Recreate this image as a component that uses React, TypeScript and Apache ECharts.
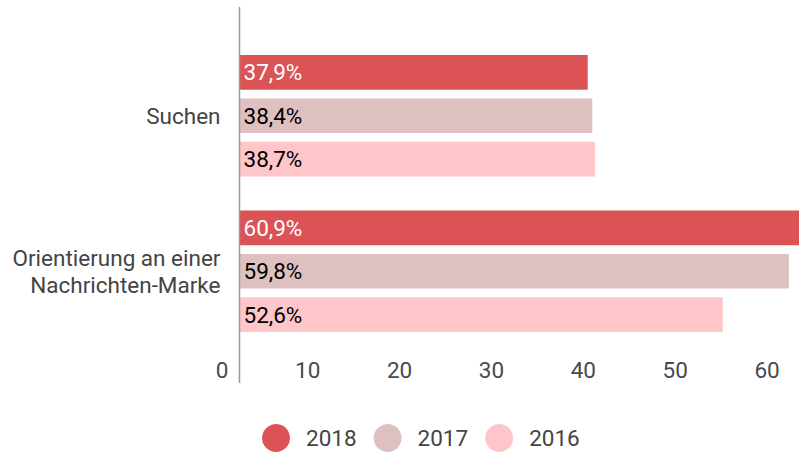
import React, { useEffect, useRef } from "react";
import * as echarts from "echarts";

const categories = ["Suchen", "Orientierung an einer\nNachrichten-Marke"];
const years = ["2018", "2017", "2016"];
const values2018 = [37.9, 60.9];
const values2017 = [38.4, 59.8];
const values2016 = [38.7, 52.6];
const colors = ["#db5355", "#dfc0c1", "#ffc6c9"];
const labelColors = ["#ffffff", "#000000", "#000000"];

const FS = 22.5;

export default function App() {
  const ref = useRef<HTMLDivElement>(null);
  useEffect(() => {
    document.body.style.margin = "0";
    if (!ref.current) return;
    const chart = echarts.init(ref.current, undefined, { renderer: "svg" });
    const seriesData = [values2018, values2017, values2016];
    chart.setOption({
      animation: false,
      textStyle: { fontFamily: "Roboto" },
      grid: { left: 239.5, right: 10, top: 38, bottom: 106, containLabel: false },
      legend: {
        top: 424,
        left: 262,
        padding: 0,
        icon: "circle",
        itemWidth: 28,
        itemHeight: 28,
        itemGap: 17,
        data: years,
        textStyle: { fontSize: FS, color: "#444", fontFamily: "Roboto", padding: [0, 0, 0, 11] },
      },
      xAxis: {
        type: "value",
        min: 0,
        max: 60.9,
        interval: 10,
        axisLine: { show: false },
        axisTick: { show: false },
        splitLine: { show: false },
        axisLabel: {
          fontSize: FS,
          color: "#4a4a4a",
          fontFamily: "Roboto",
          align: "right",
          padding: [0, 11, 0, 0],
          margin: 9,
          showMaxLabel: false,
          formatter: (v: number) => (v > 60 ? "" : String(v)),
        },
      },
      yAxis: {
        type: "category",
        inverse: true,
        data: categories,
        axisLine: { show: false },
        axisTick: { show: false },
        axisLabel: {
          fontSize: FS,
          color: "#444",
          fontFamily: "Roboto",
          margin: 19,
          lineHeight: 27,
          align: "right",
        },
      },
      series: years.map((y, i) => ({
        name: y,
        type: "bar",
        data: seriesData[i],
        barWidth: 34.7,
        barGap: "24.8%",
        itemStyle: { color: colors[i] },
        label: {
          show: true,
          position: "insideLeft",
          distance: 4,
          fontSize: FS,
          fontFamily: "Roboto",
          color: labelColors[i],
          formatter: (p: any) => p.value.toFixed(1).replace(".", ",") + "%",
        },
      })),
      graphic: [
        {
          type: "line",
          shape: { x1: 239.5, y1: 7, x2: 239.5, y2: 383 },
          style: { stroke: "#999", lineWidth: 1.5 },
          z: 10,
        },
      ],
    });
    return () => chart.dispose();
  }, []);
  return <div ref={ref} style={{ width: 809, height: 455 }} />;
}
